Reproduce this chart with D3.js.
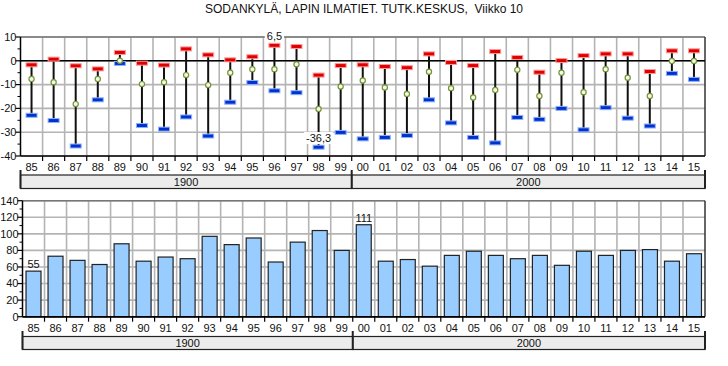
<!DOCTYPE html>
<html>
<head>
<meta charset="utf-8">
<script src="https://cdn.jsdelivr.net/npm/d3@7"></script>
<style>
body { margin: 0; background: #fff; }
text { font-family: "Liberation Sans", Arial, sans-serif; fill: #111; }
</style>
</head>
<body>
<script>
var years = ['85','86','87','88','89','90','91','92','93','94','95','96','97','98','99',
             '00','01','02','03','04','05','06','07','08','09','10','11','12','13','14','15'];
var decades = ['1900','1900','1900','1900','1900','1900','1900','1900','1900','1900','1900','1900','1900','1900','1900',
               '2000','2000','2000','2000','2000','2000','2000','2000','2000','2000','2000','2000','2000','2000','2000','2000'];
var tMax = [-1.7, 0.7, -2.1, -3.4, 3.5, -1.0, -1.8, 5.0, 2.5, 0.4, 1.7, 6.5, 6.0, -6.0, -2.0,
            -1.7, -2.4, -2.9, 2.9, -0.7, -2.0, 3.9, 1.4, -4.8, 0.1, 2.2, 2.9, 2.9, -4.5, 4.2, 4.2];
var tMean = [-7.6, -9.0, -18.2, -7.6, 0.0, -9.8, -9.0, -6.0, -10.2, -5.0, -3.5, -3.5, -1.5, -20.2, -10.8,
             -8.3, -11.2, -13.9, -4.6, -11.5, -15.4, -12.3, -3.8, -14.8, -5.0, -13.2, -3.5, -7.1, -14.8, -0.1, -0.1];
var tMin = [-22.9, -25.1, -35.8, -16.4, -1.1, -27.2, -28.7, -23.6, -31.6, -17.4, -9.1, -12.6, -13.4, -36.3, -30.1,
            -32.8, -32.2, -31.4, -16.4, -26.1, -32.2, -34.5, -23.8, -24.6, -20.0, -29.0, -19.7, -24.1, -27.4, -5.3, -7.8];
var snow = [55, 73, 68, 63, 88, 67, 72, 70, 97, 87, 95, 66, 90, 104, 80,
            111, 67, 69, 61, 74, 79, 74, 70, 74, 62, 79, 74, 80, 81, 67, 76];
var groups = ['1900', '2000'];
var topTicks = [10, 0, -10, -20, -30, -40];
var topMinor = [5, -5, -15, -25, -35];
var botTicks = [0, 20, 40, 60, 80, 100, 120, 140];
var botMinor = [10, 30, 50, 70, 90, 110, 130];
var title = 'SODANKYLÄ, LAPIN ILMATIET. TUTK.KESKUS,  Viikko 10';

var svg = d3.select('body').append('svg')
  .attr('width', 728)
  .attr('height', 366);

svg.append('text')
  .attr('x', 364).attr('y', 13)
  .attr('text-anchor', 'middle')
  .style('font-size', '12px')
  .style('white-space', 'pre')
  .text(title);

var gridColor = '#b4b4b4';

// shared frame: grid, axes, labels and the decade band
function drawFrame(x, y, ticks, minor, left, right, top, bottom, labelY, bandTop, bandBottom) {
  var g = svg.append('g');
  g.append('rect')
    .attr('x', left).attr('y', top)
    .attr('width', right - left).attr('height', bottom - top)
    .attr('fill', '#fff');

  g.selectAll('.hgrid').data(ticks).enter().append('line')
    .attr('x1', left).attr('x2', right)
    .attr('y1', function(d) { return y(d); })
    .attr('y2', function(d) { return y(d); })
    .attr('stroke', gridColor).attr('stroke-width', 1.6);

  g.selectAll('.vgrid').data(years.slice(1)).enter().append('line')
    .attr('x1', function(d) { return x(d); })
    .attr('x2', function(d) { return x(d); })
    .attr('y1', top).attr('y2', bottom)
    .attr('stroke', gridColor).attr('stroke-width', 1.6);

  g.append('line').attr('x1', left).attr('x2', right).attr('y1', top).attr('y2', top)
    .attr('stroke', '#777').attr('stroke-width', 1.5);
  g.append('line').attr('x1', right).attr('x2', right).attr('y1', top).attr('y2', bottom)
    .attr('stroke', '#333').attr('stroke-width', 1.5);

  // y axis
  g.append('line').attr('x1', left).attr('x2', left).attr('y1', top).attr('y2', bottom)
    .attr('stroke', '#000').attr('stroke-width', 1.5);
  g.selectAll('.ytick').data(ticks).enter().append('line')
    .attr('x1', left - 5).attr('x2', left)
    .attr('y1', function(d) { return y(d); })
    .attr('y2', function(d) { return y(d); })
    .attr('stroke', '#000').attr('stroke-width', 1.2);
  g.selectAll('.ymin').data(minor).enter().append('line')
    .attr('x1', left - 3).attr('x2', left)
    .attr('y1', function(d) { return y(d); })
    .attr('y2', function(d) { return y(d); })
    .attr('stroke', '#000').attr('stroke-width', 1);
  g.selectAll('.ylab').data(ticks).enter().append('text')
    .attr('x', left - 4)
    .attr('y', function(d) { return y(d); })
    .attr('dy', '0.35em')
    .attr('text-anchor', 'end')
    .style('font-size', '11px')
    .text(function(d) { return d; });

  // x axis
  g.append('line').attr('x1', left).attr('x2', right).attr('y1', bottom).attr('y2', bottom)
    .attr('stroke', '#000').attr('stroke-width', 1.5);
  g.selectAll('.xtick').data(years.slice(1)).enter().append('line')
    .attr('x1', function(d) { return x(d); })
    .attr('x2', function(d) { return x(d); })
    .attr('y1', bottom).attr('y2', bottom + 5)
    .attr('stroke', '#000').attr('stroke-width', 1.2);
  g.selectAll('.xlab').data(years).enter().append('text')
    .attr('x', function(d) { return x(d) + x.bandwidth() / 2; })
    .attr('y', labelY)
    .attr('dy', '0.35em')
    .attr('text-anchor', 'middle')
    .style('font-size', '11px')
    .text(function(d) { return d; });

  // decade band
  groups.forEach(function(grp) {
    var ys = years.filter(function(d, i) { return decades[i] === grp; });
    var x0 = x(ys[0]), x1 = x(ys[ys.length - 1]) + x.bandwidth();
    g.append('rect')
      .attr('x', x0).attr('y', bandTop)
      .attr('width', x1 - x0).attr('height', bandBottom - bandTop)
      .attr('fill', '#ececec').attr('stroke', '#222').attr('stroke-width', 1.2);
    g.append('text')
      .attr('x', (x0 + x1) / 2).attr('y', (bandTop + bandBottom) / 2)
      .attr('dy', '0.35em')
      .attr('text-anchor', 'middle')
      .style('font-size', '11px')
      .text(grp);
  });
  var seps = [x(years[0]), x('00'), x(years[years.length - 1]) + x.bandwidth()];
  g.selectAll('.sep').data(seps).enter().append('line')
    .attr('x1', function(d) { return d; })
    .attr('x2', function(d) { return d; })
    .attr('y1', labelY + 3).attr('y2', bandBottom)
    .attr('stroke', '#222').attr('stroke-width', 2);
  return g;
}

function valueLabel(g, cx, cy, txt) {
  var t = g.append('text')
    .attr('x', cx).attr('y', cy)
    .attr('dy', '0.35em')
    .attr('text-anchor', 'middle')
    .style('font-size', '11px')
    .text(txt);
  var bb = t.node().getBBox();
  g.insert('rect', function() { return t.node(); })
    .attr('x', bb.x - 2).attr('y', bb.y)
    .attr('width', bb.width + 4).attr('height', bb.height)
    .attr('fill', '#fff');
}

function fmt(v) { return String(v).replace('.', ','); }

// ---- top chart: temperature max / mean / min ----
var xTop = d3.scaleBand().domain(years).range([20.5, 705]).padding(0);
var yTop = d3.scaleLinear().domain([-40, 10]).range([156, 37]);
var gTop = drawFrame(xTop, yTop, topTicks, topMinor, 20.5, 705, 37, 156, 167, 175, 188.5);

gTop.append('line')
  .attr('x1', 20.5).attr('x2', 705)
  .attr('y1', yTop(0)).attr('y2', yTop(0))
  .attr('stroke', '#000').attr('stroke-width', 1.5);

var cxTop = function(i) { return xTop(years[i]) + xTop.bandwidth() / 2; };

gTop.selectAll('.range').data(years).enter().append('line')
  .attr('x1', function(d, i) { return cxTop(i); })
  .attr('x2', function(d, i) { return cxTop(i); })
  .attr('y1', function(d, i) { return yTop(tMax[i]); })
  .attr('y2', function(d, i) { return yTop(tMin[i]); })
  .attr('stroke', '#111').attr('stroke-width', 2);

gTop.selectAll('.maxm').data(years).enter().append('rect')
  .attr('x', function(d, i) { return cxTop(i) - 5.5; })
  .attr('y', function(d, i) { return yTop(tMax[i]) - 2; })
  .attr('width', 11).attr('height', 4)
  .attr('fill', '#e00000').attr('stroke', '#ff9a9a').attr('stroke-width', 1);

gTop.selectAll('.minm').data(years).enter().append('rect')
  .attr('x', function(d, i) { return cxTop(i) - 5.5; })
  .attr('y', function(d, i) { return yTop(tMin[i]) - 2; })
  .attr('width', 11).attr('height', 4)
  .attr('fill', '#0033cc').attr('stroke', '#8fb0ff').attr('stroke-width', 1);

gTop.selectAll('.meanm').data(years).enter().append('circle')
  .attr('cx', function(d, i) { return cxTop(i); })
  .attr('cy', function(d, i) { return yTop(tMean[i]); })
  .attr('r', 2.6)
  .attr('fill', '#e6ffe6').attr('stroke', '#7d8f35').attr('stroke-width', 1.2);

var iMax = d3.maxIndex(tMax), iMin = d3.minIndex(tMin);
valueLabel(gTop, cxTop(iMax), yTop(tMax[iMax]) - 9, fmt(tMax[iMax]));
valueLabel(gTop, cxTop(iMin), yTop(tMin[iMin]) - 9, fmt(tMin[iMin]));

// ---- bottom chart: snow depth bars ----
var xBot = d3.scaleBand().domain(years).range([22.5, 705]).padding(0);
var yBot = d3.scaleLinear().domain([0, 140]).range([316.7, 200.7]);
var gBot = drawFrame(xBot, yBot, botTicks, botMinor, 22.5, 705, 200.7, 316.7, 328, 336.5, 349.5);

var barW = xBot.bandwidth() * 0.68;
gBot.selectAll('.bar').data(years).enter().append('rect')
  .attr('x', function(d) { return xBot(d) + (xBot.bandwidth() - barW) / 2; })
  .attr('y', function(d, i) { return yBot(snow[i]); })
  .attr('width', barW)
  .attr('height', function(d, i) { return yBot(0) - yBot(snow[i]); })
  .attr('fill', '#99ccff').attr('stroke', '#222').attr('stroke-width', 1.2);

// redraw the baseline over the bars
gBot.append('line').attr('x1', 22.5).attr('x2', 705).attr('y1', yBot(0)).attr('y2', yBot(0))
  .attr('stroke', '#000').attr('stroke-width', 1.5);

var sMin = d3.minIndex(snow), sMax = d3.maxIndex(snow);
[sMin, sMax].forEach(function(i) {
  gBot.append('text')
    .attr('x', xBot(years[i]) + xBot.bandwidth() / 2)
    .attr('y', yBot(snow[i]) - 7)
    .attr('dy', '0.35em')
    .attr('text-anchor', 'middle')
    .style('font-size', '11px')
    .text(snow[i]);
});
</script>
</body>
</html>
